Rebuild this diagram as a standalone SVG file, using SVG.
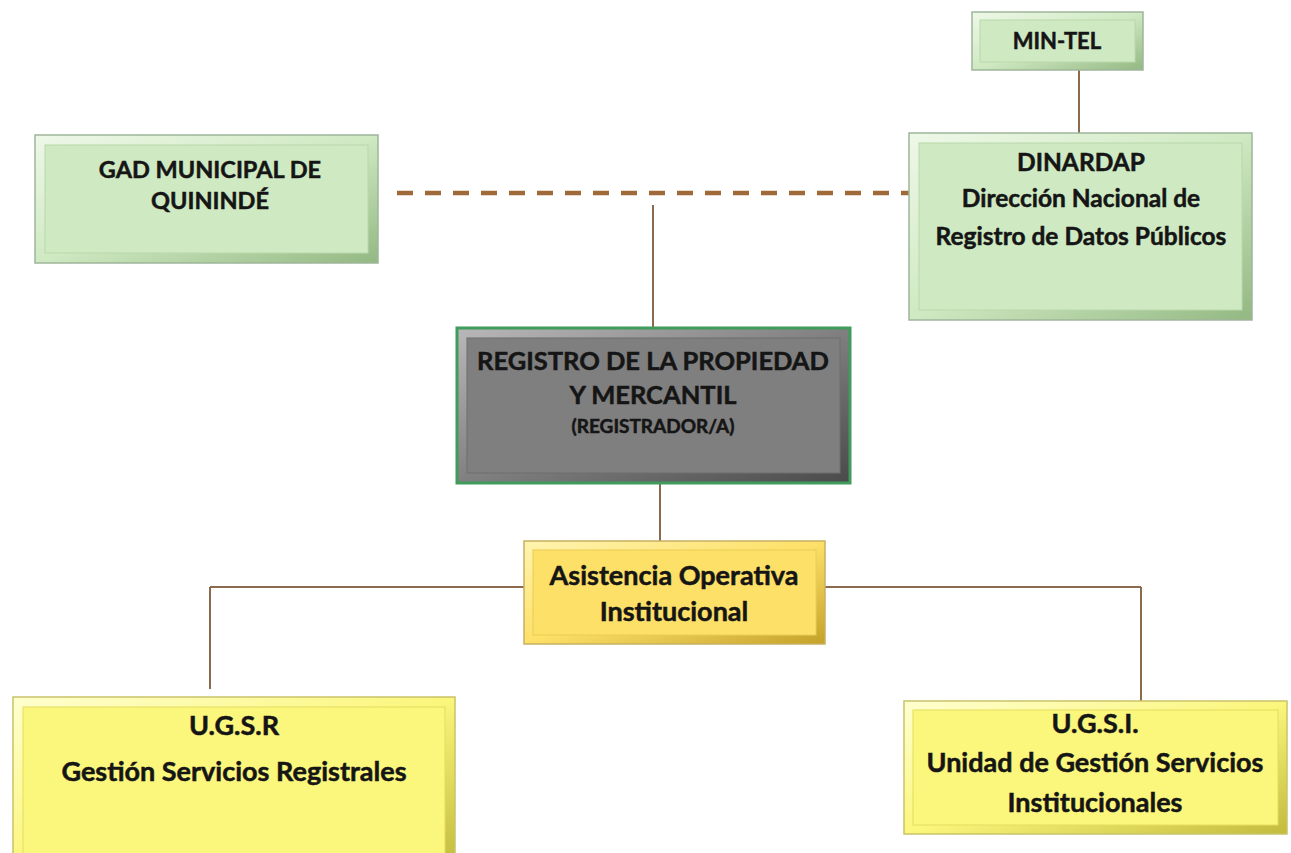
<svg xmlns="http://www.w3.org/2000/svg" width="1291" height="853" viewBox="0 0 1291 853">
<defs>
<linearGradient id="gGreen" x1="0" y1="0" x2="1" y2="1"><stop offset="0" stop-color="#eef8e8"/><stop offset="0.5" stop-color="#cfe9c2"/><stop offset="1" stop-color="#93b882"/></linearGradient>
<linearGradient id="gGray" x1="0" y1="0" x2="1" y2="1"><stop offset="0" stop-color="#b8b8b8"/><stop offset="0.5" stop-color="#808080"/><stop offset="1" stop-color="#4a4a4a"/></linearGradient>
<linearGradient id="gGold" x1="0" y1="0" x2="1" y2="1"><stop offset="0" stop-color="#fff4b0"/><stop offset="0.5" stop-color="#fde068"/><stop offset="1" stop-color="#c4a22a"/></linearGradient>
<linearGradient id="gYellow" x1="0" y1="0" x2="1" y2="1"><stop offset="0" stop-color="#ffffd0"/><stop offset="0.5" stop-color="#fbf67c"/><stop offset="1" stop-color="#c2bb3c"/></linearGradient>
<style>
.t{font-family:Lato,"Open Sans","Liberation Sans",sans-serif;font-weight:bold;fill:#151515;stroke:#151515;stroke-width:0.5;text-anchor:middle}
.green-o{fill:url(#gGreen);stroke:#9fb59a;stroke-width:1.5}
.green-i{fill:#cfe9c2;stroke:#b9d8ab;stroke-width:1}
.gray-o{fill:url(#gGray);stroke:#3f9c5c;stroke-width:3}
.gray-i{fill:#7f7f7f;stroke:#6e6e6e;stroke-width:1}
.gold-o{fill:url(#gGold);stroke:#c8b060;stroke-width:1.5}
.gold-i{fill:#fde068;stroke:#e9cc55;stroke-width:1}
.yel-o{fill:url(#gYellow);stroke:#c9c468;stroke-width:1.5}
.yel-i{fill:#fbf67c;stroke:#e3dd5e;stroke-width:1}
.c{stroke:#8b6a4e;stroke-width:2;fill:none}
.d{stroke:#a06a38;stroke-width:4.5;stroke-dasharray:16 12;fill:none}
</style>
</defs>
<g id="connectors">
<line class="c" x1="1079" y1="70" x2="1079" y2="133"/>
<line class="d" x1="397" y1="193" x2="909" y2="193"/>
<line class="c" x1="653" y1="205" x2="653" y2="328"/>
<line class="c" x1="660" y1="483" x2="660" y2="541"/>
<line class="c" x1="210" y1="587" x2="524" y2="587"/>
<line class="c" x1="825" y1="587" x2="1141" y2="587"/>
<line class="c" x1="210" y1="587" x2="210" y2="689"/>
<line class="c" x1="1141" y1="587" x2="1141" y2="701"/>
</g>
<g id="min-tel">
<rect class="green-o" x="972" y="12" width="171" height="58"/>
<rect class="green-i" x="980" y="20" width="155" height="42"/>
<text class="t" x="1057" y="49" font-size="22">MIN-TEL</text>
</g>
<g id="gad">
<rect class="green-o" x="35" y="135" width="343" height="128"/>
<rect class="green-i" x="45" y="145" width="323" height="108"/>
<text class="t" x="210" y="178" font-size="23.5">GAD MUNICIPAL DE</text>
<text class="t" x="210" y="209" font-size="23.5">QUININDÉ</text>
</g>
<g id="dinardap">
<rect class="green-o" x="909" y="133" width="343" height="187"/>
<rect class="green-i" x="919" y="143" width="323" height="167"/>
<text class="t" x="1081" y="171" font-size="24.5">DINARDAP</text>
<text class="t" x="1081" y="207" font-size="24.5">Dirección Nacional de</text>
<text class="t" x="1081" y="245" font-size="24.5">Registro de Datos Públicos</text>
</g>
<g id="registro">
<rect class="gray-o" x="457" y="328" width="393" height="155"/>
<rect class="gray-i" x="467" y="338" width="373" height="135"/>
<text class="t" x="653" y="370" font-size="25.5">REGISTRO DE LA PROPIEDAD</text>
<text class="t" x="653" y="404" font-size="25.5">Y MERCANTIL</text>
<text class="t" x="653" y="433" font-size="19">(REGISTRADOR/A)</text>
</g>
<g id="asistencia">
<rect class="gold-o" x="524" y="541" width="301" height="103"/>
<rect class="gold-i" x="533" y="550" width="283" height="85"/>
<text class="t" x="674" y="585" font-size="27">Asistencia Operativa</text>
<text class="t" x="674" y="621" font-size="27">Institucional</text>
</g>
<g id="ugsr">
<rect class="yel-o" x="13" y="697" width="442" height="170"/>
<rect class="yel-i" x="23" y="707" width="422" height="150"/>
<text class="t" x="234" y="735" font-size="27">U.G.S.R</text>
<text class="t" x="234" y="781" font-size="27">Gestión Servicios Registrales</text>
</g>
<g id="ugsi">
<rect class="yel-o" x="904" y="701" width="383" height="133"/>
<rect class="yel-i" x="913" y="710" width="365" height="115"/>
<text class="t" x="1095" y="733" font-size="27">U.G.S.I.</text>
<text class="t" x="1095" y="772" font-size="27">Unidad de Gestión Servicios</text>
<text class="t" x="1095" y="812" font-size="27">Institucionales</text>
</g>
</svg>
